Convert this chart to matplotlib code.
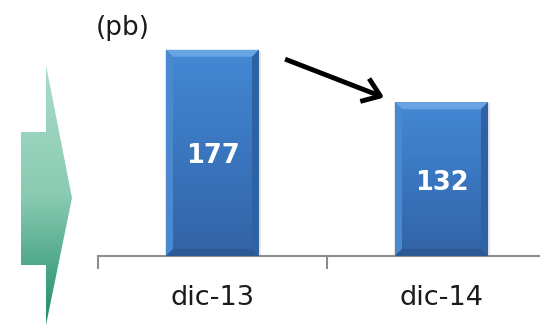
import numpy as np
import matplotlib.pyplot as plt
from matplotlib.patches import Polygon, Rectangle
from matplotlib.colors import LinearSegmentedColormap

# Spread values (basis points)
periods = ["dic-13", "dic-14"]
spread = [177, 132]
unit = "(pb)"

W, H = 540, 326
fig = plt.figure(figsize=(W / 100, H / 100), dpi=100)

# Main axes: bars sit in the middle of each category slot
ax = fig.add_axes([98 / W, 70 / H, 458 / W, 233 / H])
ax.set_xlim(-0.5, 1.5)
ax.set_ylim(0, 200)

bar_w = 0.406
x = np.arange(len(periods))
bars = ax.bar(x, spread, width=bar_w, color="#3b78c4", zorder=2)

face_cmap = LinearSegmentedColormap.from_list("face", ["#4488d4", "#3a76bf", "#3363a6"])
grad = np.linspace(0, 1, 128).reshape(-1, 1)

# bevel edges in data units (about 7 px)
bx = 7 / 229
by = 7 / 1.165
for b in bars:
    x0, y0 = b.get_x(), b.get_y()
    w, h = b.get_width(), b.get_height()
    x1, y1 = x0 + w, y0 + h
    # soft drop shadow
    ax.add_patch(Rectangle((x0 - 0.005, y0), w + 0.012, h - 1, color="#000000",
                           alpha=0.1, zorder=1, lw=0))
    # vertical shading of the face
    im = ax.imshow(grad, cmap=face_cmap, extent=(x0, x1, y0, y1),
                   aspect="auto", zorder=2.5)
    im.set_clip_path(b)
    top = Polygon([(x0, y1), (x1, y1), (x1 - bx, y1 - by), (x0 + bx, y1 - by)],
                  closed=True, color="#68a3e4", lw=0, zorder=3)
    left = Polygon([(x0, y0), (x0, y1), (x0 + bx, y1 - by), (x0 + bx, y0 + by)],
                   closed=True, color="#4a88d0", lw=0, zorder=3)
    right = Polygon([(x1, y0), (x1, y1), (x1 - bx, y1 - by), (x1 - bx, y0 + by)],
                    closed=True, color="#2f62a4", lw=0, zorder=3)
    bottom = Polygon([(x0, y0), (x1, y0), (x1 - bx, y0 + by), (x0 + bx, y0 + by)],
                     closed=True, color="#2c5994", lw=0, zorder=3)
    for p in (top, left, right, bottom):
        ax.add_patch(p)

ax.set_xlim(-0.5, 1.5)
ax.set_ylim(0, 200)

for xi, v in zip(x, spread):
    ax.text(xi, v / 2 - 3, str(v), ha="center", va="center", color="white",
            fontsize=18.5, fontweight="bold", family="DejaVu Sans", zorder=4)

# axis: only the baseline with boundary ticks
for s in ("left", "right", "top"):
    ax.spines[s].set_visible(False)
ax.spines["bottom"].set_color("#8c8c8c")
ax.spines["bottom"].set_linewidth(1.5)
ax.set_yticks([])
ax.set_xticks([-0.5, 0.5])
ax.set_xticklabels([])
ax.tick_params(axis="x", which="major", length=9, width=1.5, color="#8c8c8c")
ax.set_xticks(x, minor=True)
ax.set_xticklabels(periods, minor=True, fontsize=19.5, family="DejaVu Sans",
                   color="#1a1a1a")
ax.tick_params(axis="x", which="minor", length=0, pad=21)

# trend arrow
ax.annotate("", xy=(0.75, 136), xytext=(0.317, 169),
            arrowprops=dict(arrowstyle="->,head_length=0.55,head_width=0.4",
                            color="black", lw=3.5, mutation_scale=22,
                            shrinkA=0, shrinkB=0, capstyle="butt"))

ax.text(-0.51, 196, unit, ha="left", va="center", fontsize=19,
        family="DejaVu Sans", color="#1a1a1a")

# overlay in pixel coordinates for the side arrow
ov = fig.add_axes([0, 0, 1, 1], zorder=-1)
ov.set_xlim(0, W)
ov.set_ylim(H, 0)
ov.axis("off")
shape = Polygon([(21, 132), (46, 132), (46, 65), (72, 198), (46, 325),
                 (46, 265), (21, 265)], closed=True, facecolor="none", lw=0)
ov.add_patch(shape)
greens = LinearSegmentedColormap.from_list("greens", ["#aadcc9", "#8acbb2", "#1f8b6b"])
img = ov.imshow(grad, cmap=greens, extent=(21, 72, 325, 65), aspect="auto")
img.set_clip_path(shape)
ov.set_xlim(0, W)
ov.set_ylim(H, 0)

fig.savefig("out.png", dpi=100)
